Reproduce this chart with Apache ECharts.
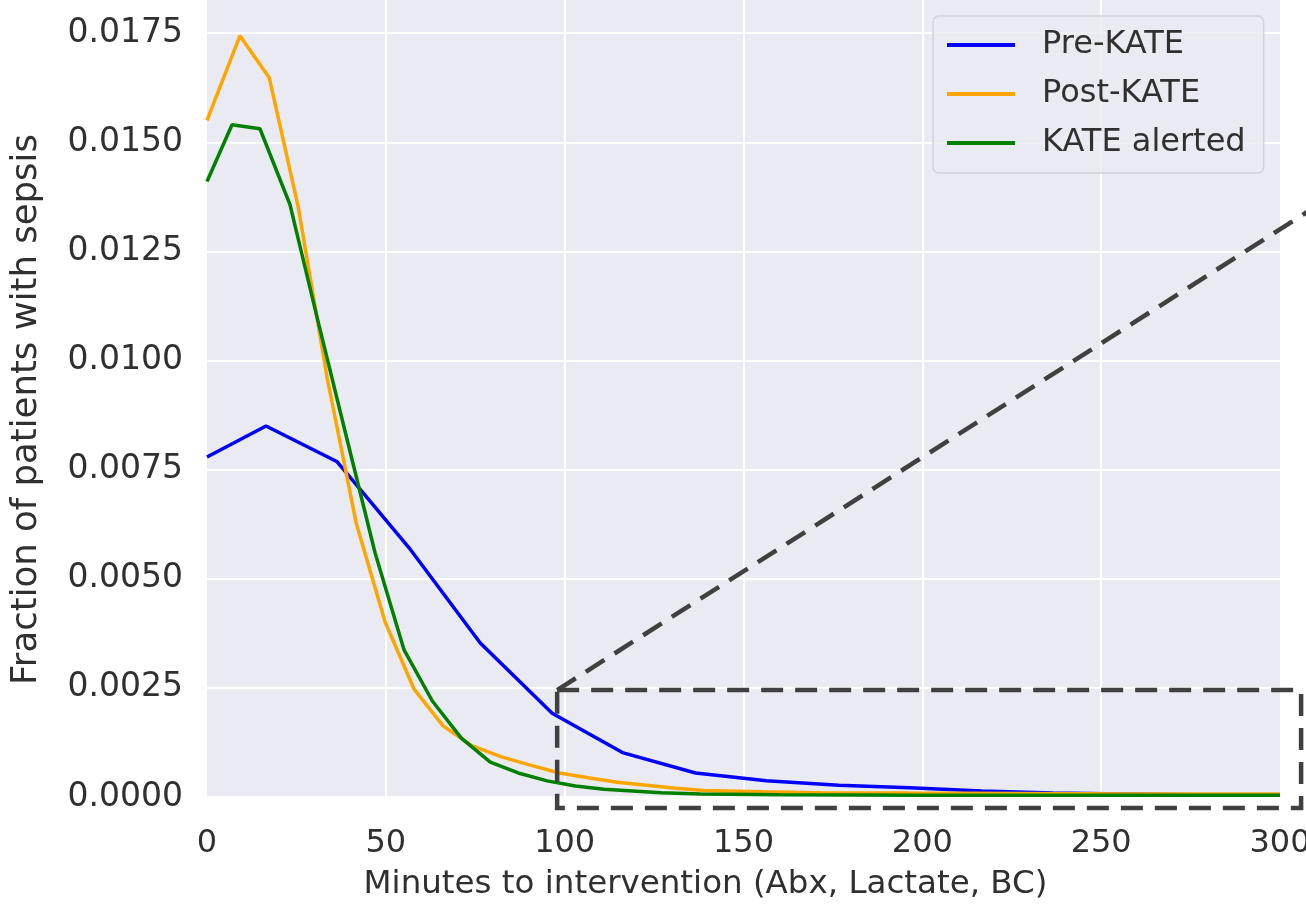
<!DOCTYPE html>
<html>
<head>
<meta charset="utf-8">
<script src="https://cdn.jsdelivr.net/npm/echarts@6/dist/echarts.min.js"></script>
<style>
  html, body { margin: 0; padding: 0; background: #ffffff; }
  #chart { width: 1306px; height: 915px; }
</style>
</head>
<body>
<div id="chart"></div>
<script>
// ---- data ----
const seriesNames = ['Pre-KATE', 'Post-KATE', 'KATE alerted'];

const preMinutes  = [0, 16.5, 36.4, 56.5, 76.4, 96.5, 116.4, 136.6, 156.4, 176.6, 196.5, 216.6, 236.5, 256.6, 276.5, 296.6, 300];
const preFraction = [0.00779, 0.0085, 0.00768, 0.00571, 0.00353, 0.00192, 0.00101, 0.00055, 0.00037, 0.00027, 0.00021, 0.00014, 0.00009, 0.00007, 0.00005, 0.00005, 0.00005];

const postMinutes  = [0, 9.2, 17.4, 25.5, 33.6, 41.7, 49.8, 57.9, 66.0, 74.2, 82.3, 90.4, 98.5, 106.6, 114.7, 122.9, 131.0, 139.1, 155.3, 171.6, 195.9, 228.4, 260.8, 300];
const postFraction = [0.0155, 0.01744, 0.01648, 0.01352, 0.0096, 0.00628, 0.00401, 0.00247, 0.00163, 0.00117, 0.00092, 0.00073, 0.00055, 0.00044, 0.00034, 0.00027, 0.0002, 0.00015, 0.00012, 0.0001, 0.00009, 0.00008, 0.00007, 0.00007];

const alertMinutes  = [0, 7.0, 14.8, 23.2, 31.1, 39.2, 47.0, 55.1, 63.0, 71.1, 79.2, 87.0, 95.1, 103.0, 111.0, 119.0, 127.0, 138.0, 160, 200, 250, 300];
const alertFraction = [0.0141, 0.0154, 0.01531, 0.01357, 0.01088, 0.00818, 0.00559, 0.00337, 0.0022, 0.00135, 0.0008, 0.00055, 0.00037, 0.00025, 0.00018, 0.00014, 0.0001, 0.00007, 0.00005, 0.00004, 0.00004, 0.00004];

const xTicks = [0, 50, 100, 150, 200, 250, 300];
const yTicks = [0, 0.0025, 0.005, 0.0075, 0.01, 0.0125, 0.015, 0.0175];

// ---- build ----
function zip(xs, ys) { return xs.map((x, i) => [x, ys[i]]); }

const colors = ['#0000ff', '#ffa500', '#008000'];
const textColor = '#303030';
const font = 'DejaVu Sans';

const chart = echarts.init(document.getElementById('chart'), null, { renderer: 'canvas' });

const option = {
  backgroundColor: '#ffffff',
  animation: false,
  grid: {
    left: 207, right: 26, top: 0, bottom: 118,
    outerBoundsMode: 'none', containLabel: false,
    show: true, backgroundColor: '#EAEAF2', borderWidth: 0
  },
  legend: {
    data: seriesNames,
    orient: 'vertical',
    left: 933, top: 16,
    padding: [11, 18, 12, 14],
    itemWidth: 68, itemHeight: 4, itemGap: 13,
    icon: 'rect',
    backgroundColor: 'rgba(234,234,242,0.8)',
    borderColor: '#d2d2da', borderWidth: 1.5, borderRadius: 6,
    textStyle: { fontFamily: font, fontSize: 32, color: textColor, lineHeight: 36, padding: [0, 0, 0, 22] }
  },
  xAxis: {
    type: 'value',
    min: xTicks[0], max: xTicks[xTicks.length - 1], interval: xTicks[1] - xTicks[0],
    name: 'Minutes to intervention (Abx, Lactate, BC)',
    nameLocation: 'middle', nameGap: 71,
    nameTextStyle: { fontFamily: font, fontSize: 32.5, color: textColor, padding: [0, 76, 0, 0] },
    axisLine: { show: false }, axisTick: { show: false },
    axisLabel: { fontFamily: font, fontSize: 32, color: textColor, margin: 31 },
    splitLine: { show: true, showMinLine: false, showMaxLine: false, lineStyle: { color: '#ffffff', width: 2 } }
  },
  yAxis: {
    type: 'value',
    min: yTicks[0], max: 0.01826, interval: yTicks[1] - yTicks[0],
    name: 'Fraction of patients with sepsis',
    nameLocation: 'middle', nameGap: 162, nameRotate: 90,
    nameTextStyle: { fontFamily: font, fontSize: 35.5, color: textColor, padding: [0, 22, 0, 0] },
    axisLine: { show: false }, axisTick: { show: false },
    axisLabel: {
      fontFamily: font, fontSize: 33, color: textColor, margin: 24, showMaxLabel: false,
      formatter: v => (yTicks.some(t => Math.abs(t - v) < 1e-9) ? v.toFixed(4) : '')
    },
    splitLine: { show: true, showMaxLine: false, lineStyle: { color: '#ffffff', width: 2 } }
  },
  series: [
    { name: seriesNames[0], type: 'line', data: zip(preMinutes, preFraction) },
    { name: seriesNames[1], type: 'line', data: zip(postMinutes, postFraction) },
    { name: seriesNames[2], type: 'line', data: zip(alertMinutes, alertFraction) }
  ].map((s, i) => Object.assign(s, {
    symbol: 'none', smooth: false, clip: true,
    lineStyle: { color: colors[i], width: 3.5 },
    itemStyle: { color: colors[i] }
  }))
};

chart.setOption(option);

// ---- zoom-region annotation (dashed box + connector), placed in data space ----
const zoomRegion = { xFrom: 97.9, xTo: 305.9, yFrom: -0.00025, yTo: 0.00245 };
const connectorEnd = [308.5, 0.01345];

function px(p) { return chart.convertToPixel({ gridIndex: 0 }, p); }
const c1 = px([zoomRegion.xFrom, zoomRegion.yTo]);
const c2 = px([zoomRegion.xTo, zoomRegion.yTo]);
const c3 = px([zoomRegion.xTo, zoomRegion.yFrom]);
const c4 = px([zoomRegion.xFrom, zoomRegion.yFrom]);
const ce = px(connectorEnd);

const dashStyle = { stroke: '#404040', lineWidth: 4.5, lineDash: [22, 12], fill: null };
chart.setOption({
  graphic: [
    { type: 'polyline', z: 100, shape: { points: [c1, c2, c3, c4, c1] }, style: dashStyle, silent: true },
    { type: 'polyline', z: 100, shape: { points: [c1, ce] }, style: dashStyle, silent: true }
  ]
});
</script>
</body>
</html>
